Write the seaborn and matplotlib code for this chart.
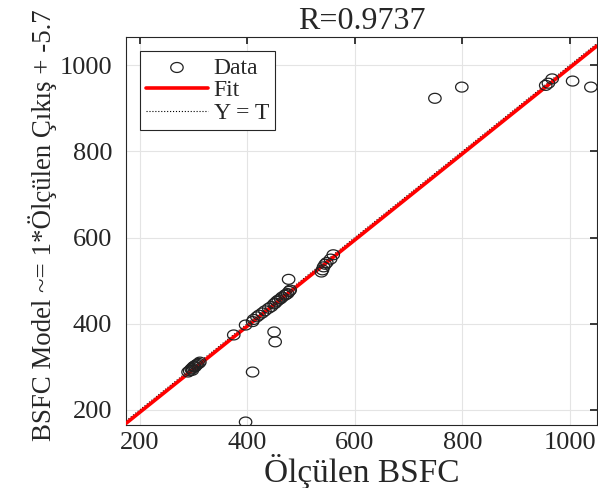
import numpy as np
import pandas as pd
import matplotlib
matplotlib.use("Agg")
import matplotlib.pyplot as plt
from matplotlib.path import Path
import seaborn as sns

olculen = [290, 293, 296, 298, 300, 302, 305, 307, 310, 312, 298, 303,
           375, 397, 410, 412, 418, 422, 428, 433, 440, 445, 450, 452, 455,
           458, 462, 465, 470, 472, 475, 478, 480, 450, 452, 477, 410,
           538, 540, 542, 545, 548, 555, 560, 397,
           749, 799, 955, 960, 967, 1005, 1039]
model = [288, 291, 295, 297, 300, 302, 304, 306, 308, 311, 292, 300,
         374, 397, 405, 410, 416, 420, 425, 430, 436, 440, 446, 448, 452,
         455, 458, 462, 466, 468, 470, 475, 478, 381, 358, 503, 288,
         520, 525, 532, 538, 542, 550, 560, 172,
         923, 949, 953, 958, 968, 963, 949]
fit_slope = 1.0
fit_offset = -5.7
r_value = 0.9737
x_ticks = [200, 400, 600, 800, 1000]
y_ticks = [200, 400, 600, 800, 1000]

df = pd.DataFrame({"T": olculen, "Y": model})

sns.set_theme(style="whitegrid")
plt.rcParams["font.family"] = ["Liberation Serif", "DejaVu Serif"]

# circles in the original are a bit wider than tall
t = np.linspace(0, 2 * np.pi, 64)
ellipse = Path(np.c_[1.25 * np.cos(t), np.sin(t)], closed=True)

fig = plt.figure(figsize=(5.98, 4.88), dpi=100)
ax = fig.add_axes([0.211, 0.129, 0.787, 0.795])

xlim = (175, 1050)
ylim = (165, 1065)
line_x = np.array(xlim, dtype=float)

ax.plot(line_x, line_x, color="black", linestyle=":", linewidth=0.8,
        label="Y = T", zorder=2)
ax.plot(line_x, fit_slope * line_x + fit_offset, color="#ff0000", linewidth=2.6,
        label="Fit", zorder=3)
sns.scatterplot(data=df, x="T", y="Y", ax=ax, marker=ellipse, s=80,
                facecolors="none", edgecolor="#222222", linewidth=0.9,
                label="Data", zorder=4)

ax.set_xlim(*xlim)
ax.set_ylim(*ylim)
ax.set_xticks(x_ticks)
ax.set_yticks(y_ticks)
ax.tick_params(axis="both", labelsize=19, direction="in", length=5,
               top=True, right=True, colors="#222222", labelcolor="#262626")
ax.tick_params(axis="y", pad=10)
ax.tick_params(axis="x", pad=5)
ax.grid(True, color="#e4e4e4", linewidth=0.8)
ax.set_facecolor("white")
for s in ax.spines.values():
    s.set_color("#262626")
    s.set_linewidth(0.8)

ax.set_xlabel("Ölçülen BSFC", fontsize=24, color="#262626", labelpad=0)
ax.set_ylabel("BSFC Model ~= 1*Ölçülen Çıkış + -5.7", fontsize=19.4,
              color="#262626", labelpad=2)
ax.yaxis.set_label_coords(-0.148, 0.515)
ax.set_title(f"R={r_value}", fontsize=23, color="#262626", pad=6)

h, l = ax.get_legend_handles_labels()
order = [l.index("Data"), l.index("Fit"), l.index("Y = T")]
leg = ax.legend([h[i] for i in order], [l[i] for i in order], loc="upper left",
                fontsize=17, frameon=True, fancybox=False, framealpha=1,
                edgecolor="#262626", borderpad=0.25, labelspacing=0.05,
                handlelength=2.6, handletextpad=0.25,
                borderaxespad=0.6)
leg.get_frame().set_linewidth(0.8)

fig.savefig("out.png", dpi=100)
